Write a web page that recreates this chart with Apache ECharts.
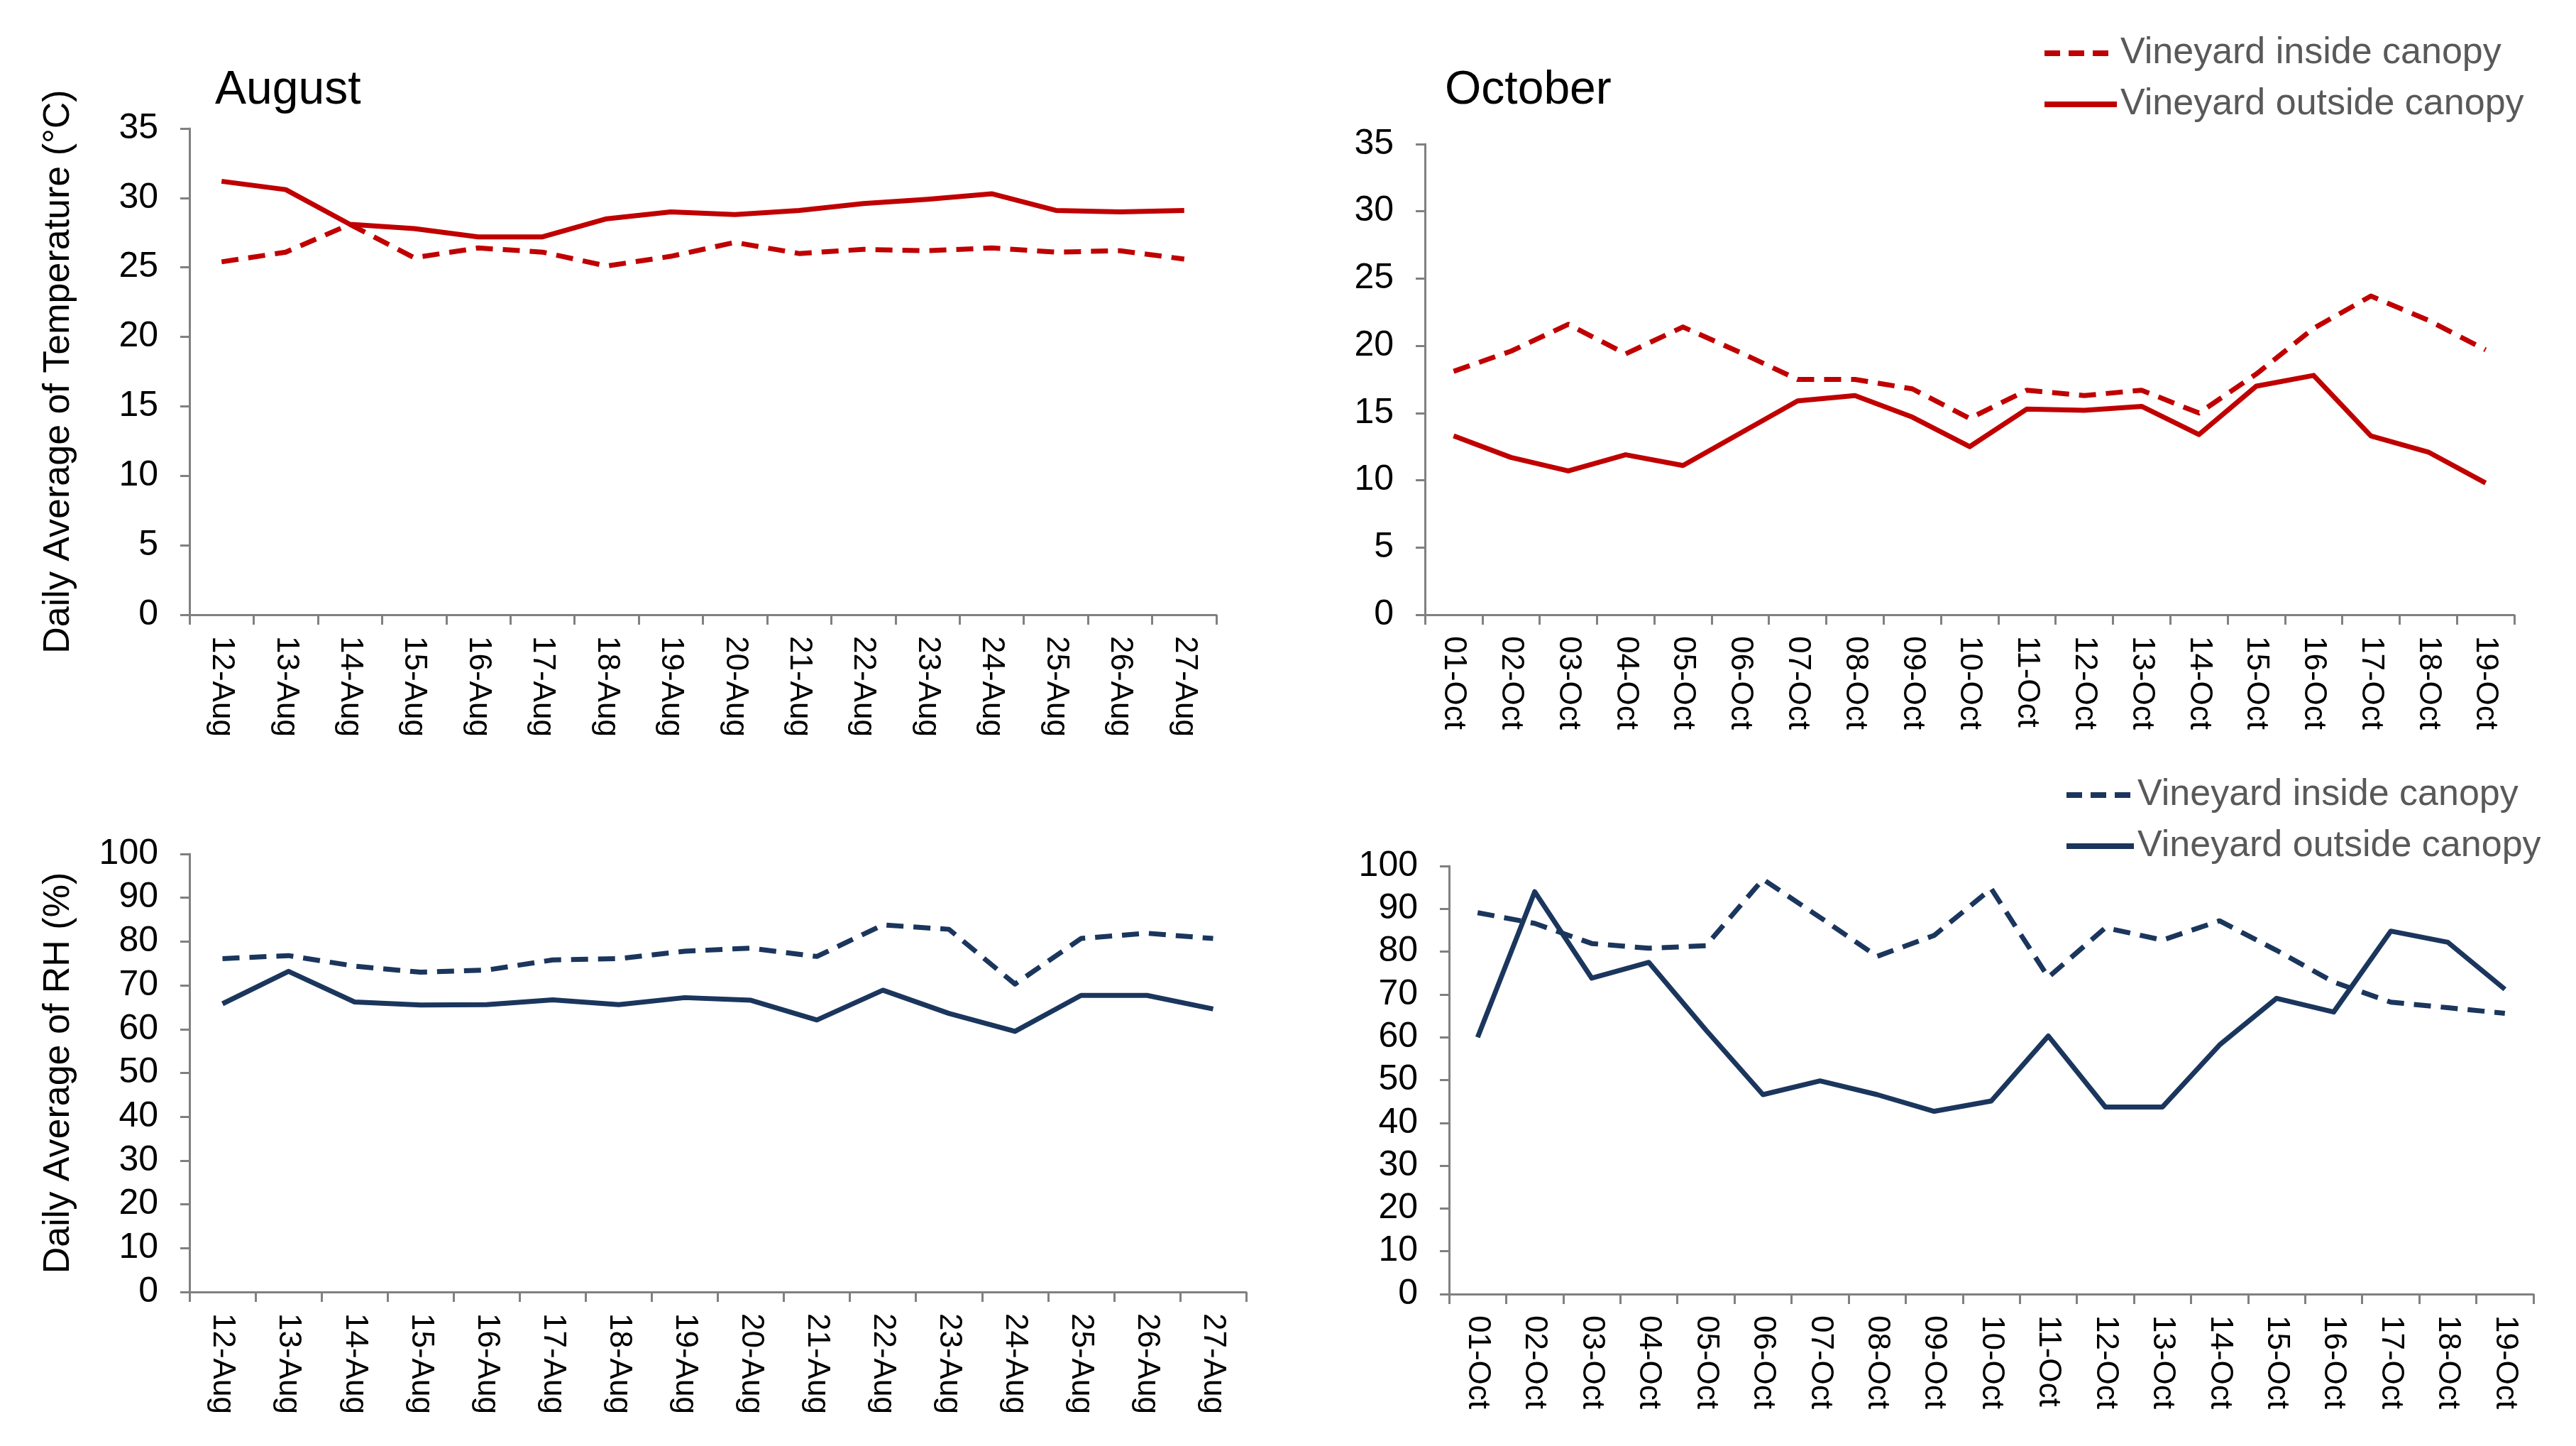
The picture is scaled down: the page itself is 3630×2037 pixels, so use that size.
<!DOCTYPE html>
<html>
<head>
<meta charset="utf-8">
<script src="https://cdn.jsdelivr.net/npm/echarts@6/dist/echarts.min.js"></script>
<style>
html,body{margin:0;padding:0;background:#fff;}
#chart{width:3630px;height:2037px;}
</style>
</head>
<body>
<div id="chart"></div>
<script>
const augDays = ['12-Aug','13-Aug','14-Aug','15-Aug','16-Aug','17-Aug','18-Aug','19-Aug','20-Aug','21-Aug','22-Aug','23-Aug','24-Aug','25-Aug','26-Aug','27-Aug'];
const octDays = ['01-Oct','02-Oct','03-Oct','04-Oct','05-Oct','06-Oct','07-Oct','08-Oct','09-Oct','10-Oct','11-Oct','12-Oct','13-Oct','14-Oct','15-Oct','16-Oct','17-Oct','18-Oct','19-Oct'];

const augTempInside  = [25.4,26.1,28.1,25.7,26.4,26.1,25.1,25.8,26.8,26.0,26.3,26.2,26.4,26.1,26.2,25.6];
const augTempOutside = [31.2,30.6,28.1,27.8,27.2,27.2,28.5,29.0,28.8,29.1,29.6,29.9,30.3,29.1,29.0,29.1];
const octTempInside  = [18.1,19.6,21.6,19.4,21.4,19.5,17.5,17.5,16.8,14.6,16.7,16.3,16.7,15.0,17.9,21.3,23.7,21.9,19.7];
const octTempOutside = [13.3,11.7,10.7,11.9,11.1,13.5,15.9,16.3,14.7,12.5,15.3,15.2,15.5,13.4,17.0,17.8,13.3,12.1,9.8];
const augRHInside    = [76.1,76.8,74.4,73.0,73.5,75.8,76.1,77.8,78.5,76.6,83.8,82.8,70.3,80.7,81.9,80.7];
const augRHOutside   = [65.8,73.2,66.2,65.5,65.6,66.7,65.6,67.2,66.6,62.1,68.9,63.6,59.5,67.7,67.7,64.6];
const octRHInside    = [89.1,86.6,81.9,80.8,81.4,96.9,88.0,78.9,83.8,94.7,74.0,85.6,82.7,87.2,80.3,72.9,68.2,66.9,65.6];
const octRHOutside   = [60.0,94.0,73.8,77.5,61.7,46.6,49.8,46.6,42.7,45.1,60.3,43.7,43.7,58.2,69.1,65.9,84.8,82.2,71.2];

const tempTicks = {min:0, max:35, interval:5};
const rhTicks = {min:0, max:100, interval:10};

const nameIn = 'Vineyard inside canopy';
const nameOut = 'Vineyard outside canopy';
const titles = ['August','October'];
const yNames = ['Daily Average of Temperature (°C)','Daily Average of RH (%)'];

const RED = '#C00000';
const NAVY = '#1B365D';
const AXIS = '#808080';
const FONT = 'Liberation Sans';
const DASH = [24,14];

function xAxis(gi, cats){
  return {
    type:'category', gridIndex:gi, data:cats, boundaryGap:true,
    axisLine:{show:true, lineStyle:{color:AXIS, width:3}},
    axisTick:{show:true, alignWithLabel:false, length:14, lineStyle:{color:AXIS, width:3}},
    axisLabel:{rotate:-90, margin:30, fontSize:44, color:'#000', fontFamily:FONT, interval:0},
    splitLine:{show:false}
  };
}
function yAxis(gi, t, name){
  const o = {
    type:'value', gridIndex:gi, min:t.min, max:t.max, interval:t.interval,
    axisLine:{show:true, lineStyle:{color:AXIS, width:3}},
    axisTick:{show:true, length:13, lineStyle:{color:AXIS, width:3}},
    axisLabel:{margin:44, fontSize:50, color:'#000', fontFamily:FONT},
    splitLine:{show:false}
  };
  if (name) {
    o.name = name; o.nameLocation = 'middle'; o.nameGap = 158;
    o.nameTextStyle = {fontSize:52, color:'#000', fontFamily:FONT};
  }
  return o;
}
function line(name, gi, data, color, dashed){
  return {
    type:'line', name:name, xAxisIndex:gi, yAxisIndex:gi, data:data,
    symbol:'none', smooth:false, animation:false, silent:true,
    lineStyle:{color:color, width:7, type: dashed ? DASH : 'solid', cap:'butt', join:'round'},
    itemStyle:{color:color}
  };
}
function legend(left, top, color, w){
  return {
    orient:'vertical', left:left, top:top, itemWidth:w, itemHeight:14, itemGap:16,
    selectedMode:false,
    textStyle:{fontSize:52, color:'#595959', fontFamily:FONT, lineHeight:56},
    data:[
      {name:nameIn, lineStyle:{color:color, width:8, type:[22,12]}, itemStyle:{color:color, opacity:0, borderWidth:0}},
      {name:nameOut, lineStyle:{color:color, width:8, type:'solid'}, itemStyle:{color:color, opacity:0, borderWidth:0}}
    ]
  };
}

const option = {
  backgroundColor:'#fff',
  animation:false,
  title:[
    {text:titles[0], left:298, top:90, textStyle:{fontSize:66, fontWeight:'normal', color:'#000', fontFamily:FONT}},
    {text:titles[1], left:2031, top:90, textStyle:{fontSize:66, fontWeight:'normal', color:'#000', fontFamily:FONT}}
  ],
  legend:[
    legend(2872, 42, RED, 102),
    legend(2903, 1087, NAVY, 95)
  ],
  grid:[
    {left:267, top:181, width:1447, height:685},
    {left:2008, top:203, width:1535, height:663},
    {left:267, top:1203, width:1489, height:617},
    {left:2042, top:1220, width:1528, height:603}
  ],
  xAxis:[xAxis(0,augDays), xAxis(1,octDays), xAxis(2,augDays), xAxis(3,octDays)],
  yAxis:[yAxis(0,tempTicks,yNames[0]), yAxis(1,tempTicks,null), yAxis(2,rhTicks,yNames[1]), yAxis(3,rhTicks,null)],
  series:[
    line(nameIn, 0, augTempInside, RED, true),
    line(nameOut, 0, augTempOutside, RED, false),
    line(nameIn, 1, octTempInside, RED, true),
    line(nameOut, 1, octTempOutside, RED, false),
    line(nameIn, 2, augRHInside, NAVY, true),
    line(nameOut, 2, augRHOutside, NAVY, false),
    line(nameIn, 3, octRHInside, NAVY, true),
    line(nameOut, 3, octRHOutside, NAVY, false)
  ]
};
const chart = echarts.init(document.getElementById('chart'), null, {renderer:'canvas'});
chart.setOption(option);
</script>
</body>
</html>
